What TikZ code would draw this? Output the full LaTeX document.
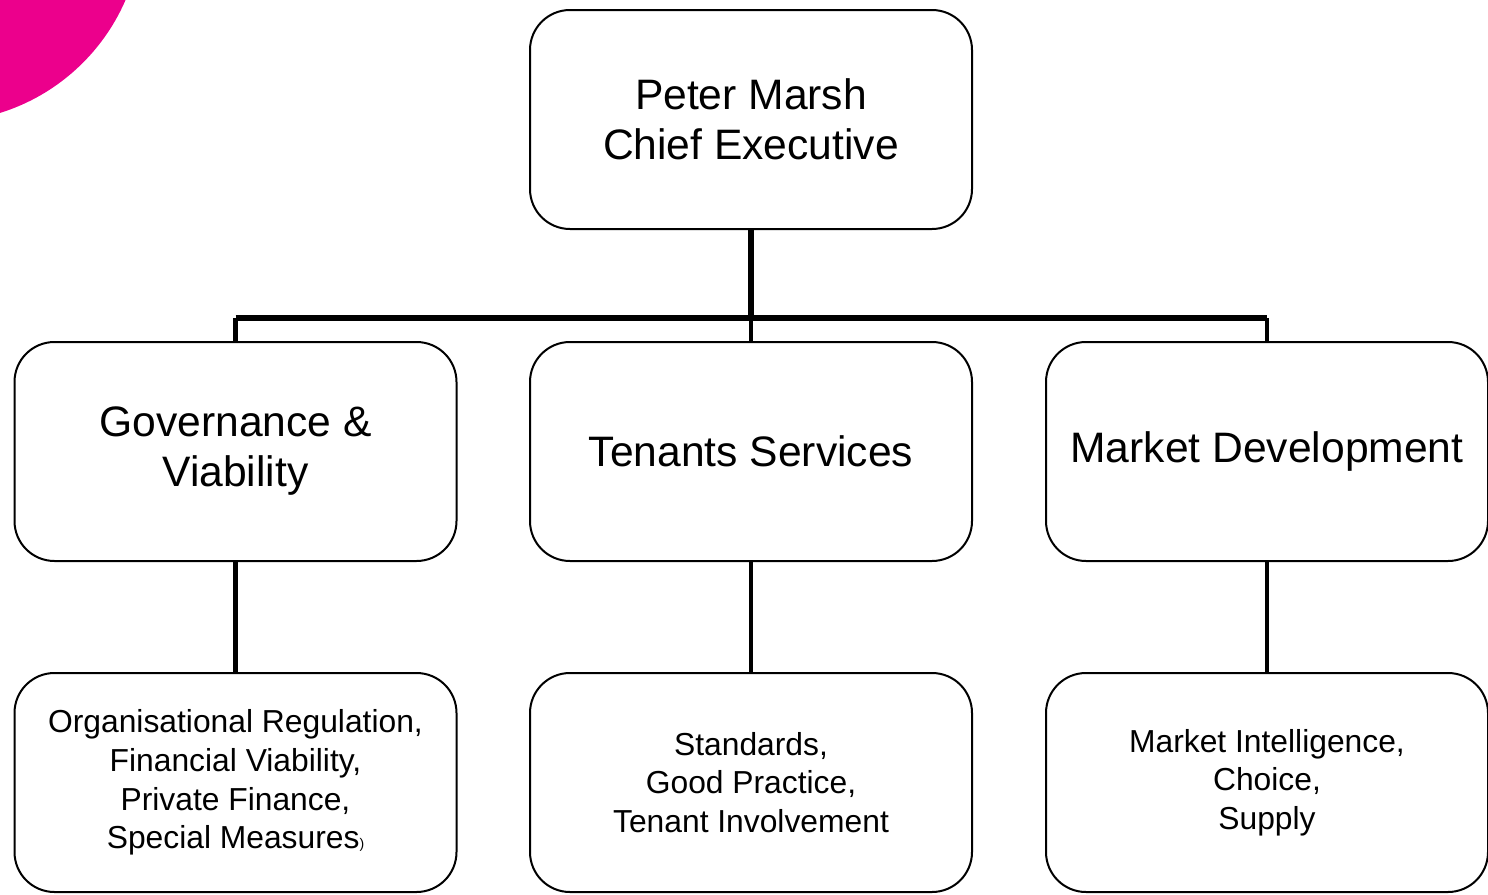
\documentclass[tikz,border=0pt]{standalone}
\usepackage{fontspec}
\setmainfont{Liberation Sans}
\usepackage{tikz}
\definecolor{brandpink}{RGB}{236,0,140}

\tikzset{
	unit/.style={draw, line width=1pt, rounded corners=20pt, fill=white,
		minimum width=221pt, minimum height=109.5pt, align=center,
		inner sep=0pt, font=\fontsize{21.3}{25}\selectfont},
	remit/.style={unit, font=\fontsize{15.9}{19.3}\selectfont},
	trunk/.style={line width=3pt},
	stub/.style={line width=2.3pt}
}

\begin{document}
\begin{tikzpicture}[x=0.5pt, y=-0.5pt]
	\useasboundingbox (0,0) rectangle (1488,894);
	\clip (0,0) rectangle (1488,894);
	% corner blob
	\fill[brandpink] (-60,-80) circle[radius=202];

	% chief executive and the three divisions
	\node[unit] (ceo) at (751,119.5) {Peter Marsh\\Chief Executive};
	\node[unit] (gov) at (235.5,451.5) {Governance \&\\Viability};
	\node[unit] (ten) at (751,451.5) {Tenants Services};
	\node[unit] (mkt) at (1267,451.5) {Market Development};

	% what each division covers
	\node[remit] (govr) at (235.5,782.5) {Organisational Regulation,\\Financial Viability,\\Private Finance,\\ Special Measures{\fontsize{7}{8}\selectfont)}};
	\node[remit] (tenr) at (751,782.5) {Standards,\\Good Practice,\\Tenant Involvement};
	\node[remit] (mktr) at (1267,782.5) {Market Intelligence,\\Choice,\\Supply};

	% connectors
	\coordinate (bus) at (751,318);
	\draw[trunk] (ceo.south) -- (bus);
	\draw[trunk] (gov.north |- bus) -- (mkt.north |- bus);
	\draw[stub] (gov.north |- bus) -- (gov.north);
	\draw[stub] (bus) -- (ten.north);
	\draw[stub] (mkt.north |- bus) -- (mkt.north);
	\draw[stub] (gov.south) -- (govr.north);
	\draw[stub] (ten.south) -- (tenr.north);
	\draw[stub] (mkt.south) -- (mktr.north);
\end{tikzpicture}
\end{document}
